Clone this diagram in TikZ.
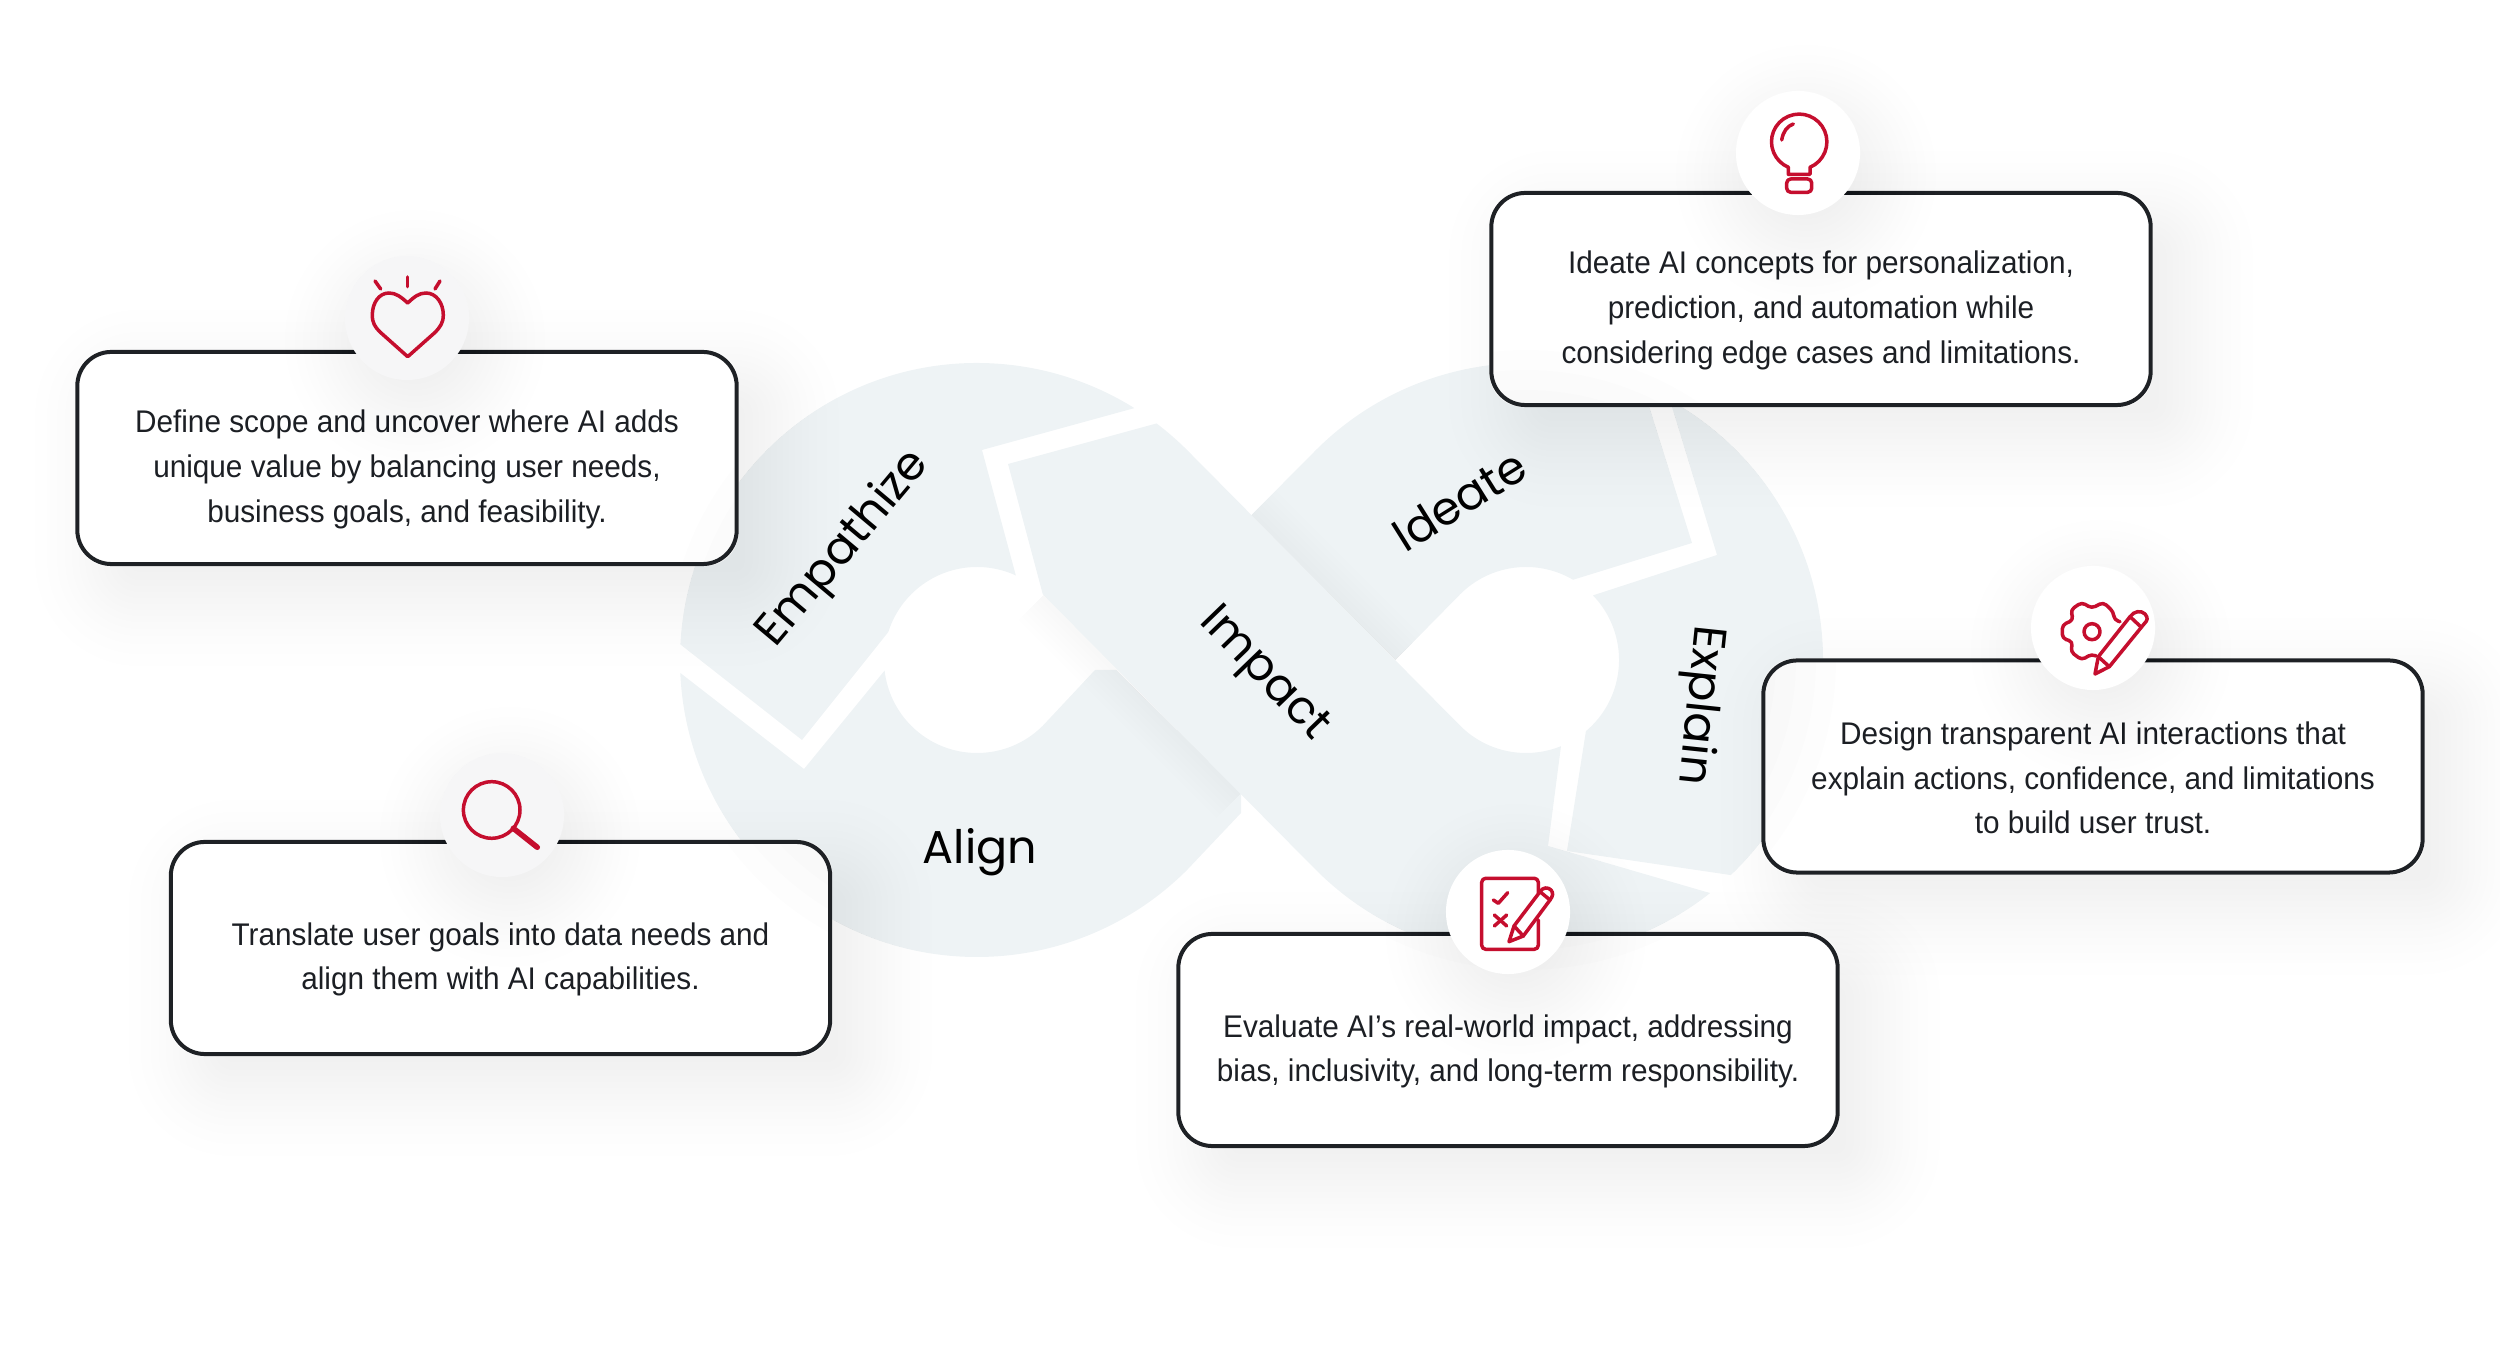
\documentclass[tikz,border=0pt]{standalone}
\usepackage{fontspec}
\setmainfont[FakeStretch=0.95]{Liberation Sans}
\newfontfamily\stagefont{Poppins}
\usepackage{xcolor}
\usetikzlibrary{calc,backgrounds}

\definecolor{loopfill}{HTML}{EEF3F5}
\definecolor{cardline}{HTML}{1E2125}
\definecolor{cardtext}{HTML}{1C1F24}
\definecolor{iconred}{HTML}{C50E2E}
\definecolor{softcircle}{HTML}{F6F6F7}

\newcommand{\cardlift}{\rule{0pt}{13pt}}
\newcommand{\cardshadow}[1]{
    \foreach \s in {-24,-16,-10,-4,2,8,14,20,26,33,40,48,58,70} {
        \fill[black, opacity=0.0045, rounded corners=0.34cm+\s*0.01cm]
            ($(#1.south west)+(30-\s,30+\s)$) rectangle ($(#1.north east)+(30+\s,30-\s)$);
    }
}
\newcommand{\cardpane}[1]{
    \fill[white, rounded corners=0.34cm] (#1.south west) rectangle (#1.north east);
    \begin{scope}
        \clip[rounded corners=0.34cm] (#1.south west) rectangle (#1.north east);
        \foreach \s in {230,250,270,290,310} {
            \fill[black, opacity=0.006] (lefthub) circle[radius=\s];
            \fill[black, opacity=0.006] (righthub) circle[radius=\s];
        }
    \end{scope}
}
\newcommand{\circleshadow}[1]{
    \foreach \s in {44,50,56,62,68,74,80,86,92,98,105,112,120,130} {
        \fill[black, opacity=0.0045] ($(#1)+(8,22)$) circle[radius=\s];
    }
}

\begin{document}
\begin{tikzpicture}[
    x=0.01cm,
    y=-0.01cm,
    card/.style={
        draw=cardline,
        line width=0.04cm,
        rounded corners=0.34cm,
        minimum width=6.59cm,
        minimum height=2.12cm,
        align=center,
        text=cardtext,
        font=\fontsize{8.9}{12.7}\selectfont
    },
    iconcircle/.style={circle, fill=white, inner sep=0pt, minimum size=1.24cm},
    softicon/.style={iconcircle, fill=softcircle},
    stage/.style={text=black, font=\stagefont\fontsize{13.1}{15}\selectfont},
    loop/.style={fill=loopfill},
    icon/.style={draw=iconred, line width=0.035cm, line cap=round, line join=round}
]
\useasboundingbox (0,0) rectangle (2500,1368);
\coordinate (lefthub) at (977,660);
\coordinate (righthub) at (1526,660);

% Cards
\node[card] (empathizecard) at (407,458) {\cardlift Define scope and uncover where AI adds\\unique value by balancing user needs,\\business goals, and feasibility.};
\node[card] (ideatecard) at (1821,299) {\cardlift Ideate AI concepts for personalization,\\prediction, and automation while\\considering edge cases and limitations.};
\node[card] (explaincard) at (2093,766.5) {\cardlift Design transparent AI interactions that\\explain actions, confidence, and limitations\\to build user trust.};
\node[card] (aligncard) at (500.5,948) {\cardlift Translate user goals into data needs and\\align them with AI capabilities.};
\node[card] (impactcard) at (1508,1040) {\cardlift Evaluate AI’s real-world impact, addressing\\bias, inclusivity, and long-term responsibility.};

% Loop pieces and soft shadows
\begin{scope}[on background layer]
    \fill[loop] ([shift={(183:297)}]lefthub) arc[start angle=183, end angle=302, radius=297] -- (982,450) -- ([shift={(294.7:93)}]lefthub) arc[start angle=294.7, end angle=197.5, radius=93] -- (802,740) -- cycle;
    \fill[loop] ([shift={(177.5:297)}]lefthub) arc[start angle=177.5, end angle=45, radius=297] -- (1241,813) -- (1241,793) -- (1116,670) -- (1095,670) -- ([shift={(45:93)}]lefthub) arc[start angle=45, end angle=173.5, radius=93] -- (804,769) -- cycle;
    \fill[loop] (1251,515.5) -- ([shift={(225:297)}]righthub) arc[start angle=225, end angle=293.2, radius=297] -- (1692,543) -- ([shift={(300.4:93)}]righthub) arc[start angle=300.4, end angle=225, radius=93] -- (1395.5,660) -- cycle;
    \fill[loop] ([shift={(299:297)}]righthub) arc[start angle=299, end angle=406.4, radius=297] -- (1567,851) -- ([shift={(49.9:93)}]righthub) arc[start angle=49.9, end angle=-44, radius=93] -- (1717,555) -- cycle;
    % band shadow falling on the pieces it crosses
    \foreach \w in {10,20,30,40,50,60,70} {
        \draw[black, opacity=0.003, line width=\w*0.01cm] (1043,595) -- (1241,793);
        \draw[black, opacity=0.003, line width=\w*0.01cm] (1251,515.5) -- (1395.5,660);
    }
    \fill[loop] ([shift={(-52.8:297)}]lefthub) arc[start angle=-52.8, end angle=-45, radius=297] -- ([shift={(135:93)}]righthub) arc[start angle=135, end angle=67.9, radius=93] -- (1548,846) -- ([shift={(51.7:297)}]righthub) arc[start angle=51.7, end angle=135, radius=297] -- ([shift={(-45:93)}]lefthub) -- (1008,464) -- cycle;
    \cardshadow{empathizecard}
    \cardshadow{ideatecard}
    \cardshadow{explaincard}
    \cardshadow{aligncard}
    \cardshadow{impactcard}
    \cardpane{empathizecard}
    \cardpane{ideatecard}
    \cardpane{explaincard}
    \cardpane{aligncard}
    \cardpane{impactcard}
\end{scope}

% Stage names
\node[stage, rotate=50] (empathizename) at (844,549) {Empathize};
\node[stage, rotate=-46] (impactname) at (1263,675) {Impact};
\node[stage, rotate=32] (ideatename) at (1459,500) {Ideate};
\node[stage, rotate=-96] (explainname) at (1699,705) {Explain};
\node[stage] (alignname) at (980,852) {Align};

% Icon circles
\coordinate (empathizespot) at (407,318);
\coordinate (ideatespot) at (1798,153);
\coordinate (explainspot) at (2093,628);
\coordinate (alignspot) at (502,815);
\coordinate (impactspot) at (1508,912);
\circleshadow{empathizespot}
\circleshadow{ideatespot}
\circleshadow{explainspot}
\circleshadow{alignspot}
\circleshadow{impactspot}
\node[softicon] (empathizecircle) at (empathizespot) {};
\node[iconcircle] (ideatecircle) at (ideatespot) {};
\node[iconcircle] (explaincircle) at (explainspot) {};
\node[softicon] (aligncircle) at (alignspot) {};
\node[iconcircle] (impactcircle) at (impactspot) {};

% Heart
\draw[icon] (407.7,303) .. controls (401,297) and (396,293) .. (389,293) .. controls (379,293) and (372.3,303) .. (372.3,315) .. controls (372.3,323) and (375,327) .. (380,332) -- (407.7,356.7) -- (435.5,332) .. controls (440,327) and (443.3,323) .. (443.3,315) .. controls (443.3,303) and (436,293) .. (426,293) .. controls (419,293) and (414,297) .. (407.7,303) -- cycle;
\draw[icon] (407.7,277) -- (407.7,286.7);
\draw[icon] (375,281) -- (380.7,289);
\draw[icon] (440,281) -- (435,289);

% Bulb
\draw[icon] (1810,174.3) -- (1810,167.3) arc[start angle=67, end angle=-247, radius=27.7] -- (1788.3,174.3) -- cycle;
\draw[icon, rounded corners=0.04cm] (1786.7,179) rectangle (1811.7,192.3);
\draw[icon] (1781.7,140) .. controls (1783,132) and (1787,126) .. (1793.3,124);

% Gear and pencil
\draw[icon, rounded corners=0.04cm] (2120,621.7) -- (2114.3,620) -- (2113.3,611.7) -- (2103.3,602.3) -- (2091.7,608.3) -- (2081.7,602.3) -- (2070.7,610) -- (2073.3,620) -- (2062.3,625) -- (2062.3,638.3) -- (2072.7,641.7) -- (2070.7,651.7) -- (2081.7,660) -- (2091.7,654) -- (2096,656);
\draw[icon] (2092,631.7) circle[radius=8];
\draw[icon] (2095,674) -- (2098.3,656.7) -- (2130,616.7) .. controls (2134,611) and (2141,610) .. (2145,614) .. controls (2148,618) and (2148,620) .. (2144,624) -- (2109.3,666.7) -- cycle;
\draw[icon] (2130,616.7) -- (2141,627);
\draw[icon] (2098.3,656.7) -- (2109.3,666.7);

% Checklist and pencil
\draw[icon, rounded corners=0.04cm] (1538.3,893) -- (1538.3,878.3) -- (1481.7,878.3) -- (1481.7,949.3) -- (1538.3,949.3) -- (1538.3,920);
\draw[icon] (1493.3,900) -- (1498.3,903.3) -- (1507.7,892.7);
\draw[icon] (1494.3,915) -- (1506.7,926);
\draw[icon] (1506.7,915) -- (1494.3,926);
\draw[icon] (1509,941.7) -- (1514,926) -- (1540,891.7) .. controls (1543,887) and (1548,887) .. (1551,890) .. controls (1553.5,893) and (1553,896) .. (1550,900) -- (1523.3,936) -- cycle;
\draw[icon] (1540,891.7) -- (1550,900);
\draw[icon] (1514,926) -- (1523.3,936);

% Magnifier
\draw[icon] (491.7,810) circle[radius=28.3];
\draw[icon, line width=0.055cm] (513.3,828.3) -- (537.3,847.3);

\end{tikzpicture}
\end{document}
